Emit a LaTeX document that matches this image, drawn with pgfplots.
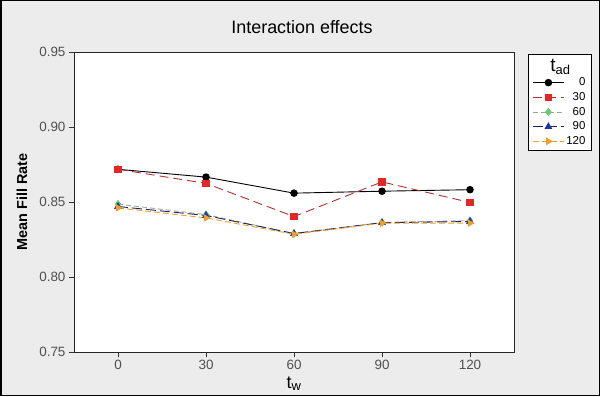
\documentclass[border=0pt]{standalone}
\usepackage{pgfplots}
\pgfplotsset{compat=1.18}
\usepackage{fontspec}
\setmainfont{Liberation Sans}
\definecolor{bg}{HTML}{ECECEC}
\definecolor{myred}{HTML}{E02828}
\definecolor{mydred}{HTML}{B03030}
\definecolor{mygreen}{HTML}{66CC77}
\definecolor{mygray}{HTML}{9CA89C}
\definecolor{myblue}{HTML}{2233AA}
\definecolor{mynavy}{HTML}{202060}
\definecolor{myorange}{HTML}{F0A028}
\definecolor{tickgray}{HTML}{505050}
\begin{document}
\begin{tikzpicture}[x=1bp,y=1bp]
\fill[bg] (0,0) rectangle (600,396);
\draw[black, line width=1.5bp] (0.75,0.75) rectangle (599.25,395.25);
\node[font=\fontsize{18}{20}\selectfont] at (302,369) {Interaction effects};
\begin{axis}[
  at={(74bp,44bp)}, anchor=south west,
  scale only axis, width=440bp, height=300bp,
  xmin=-15, xmax=135, ymin=0.75, ymax=0.95,
  xtick={0,30,60,90,120}, ytick={0.75,0.8,0.85,0.9,0.95},
  yticklabel style={/pgf/number format/.cd, fixed, fixed zerofill, precision=2},
  /pgf/number format/assume math mode=true,
  tick label style={font=\fontsize{13.5}{15}\selectfont, text=tickgray},
  tick align=outside, tick pos=left,
  major tick length=5bp,
  axis line style={line width=0.9bp, black!85},
  every tick/.style={black!80, line width=0.8bp},
  axis background/.style={fill=white},
  every axis y label/.style={at={(axis description cs:-0.118,0.5)},rotate=90,anchor=center},
  every axis x label/.style={at={(axis description cs:0.5,-0.105)},anchor=center},
  ylabel={\fontsize{14.5}{16}\selectfont\bfseries Mean Fill Rate},
  xlabel={\fontsize{18}{20}\selectfont t\textsubscript{\fontsize{13}{13}\selectfont w}},
  legend style={at={(rel axis cs:1.0318,0.9933)}, anchor=north west, draw=black, line width=0.9bp, fill=white,
    font=\fontsize{11.5}{13}\selectfont, row sep=1.2bp, inner sep=2.5bp, inner xsep=4bp},
  legend cell align=right,
  legend image code/.code={\draw[mark repeat=2,mark phase=2,#1] plot coordinates {(0bp,0bp)(15.5bp,0bp)(31bp,0bp)};},
]
\addlegendimage{empty legend}
\addlegendentry{\makebox[0pt][r]{\fontsize{19}{20}\selectfont t\textsubscript{\fontsize{13}{13}\selectfont ad}\hspace{15bp}}}
\addplot[black, line width=0.9bp, mark=*, mark size=3.3bp, mark options={solid, fill=black}]
  coordinates {(0,0.8718) (30,0.8666) (60,0.8559) (90,0.8572) (120,0.8582)};
\addlegendentry{0}
\addplot[mydred, line width=0.9bp, dash pattern=on 9bp off 5bp, mark=square*, mark size=3.3bp, mark options={solid, fill=myred, draw=myred}]
  coordinates {(0,0.8718) (30,0.8624) (60,0.8403) (90,0.8634) (120,0.8497)};
\addlegendentry{30}
\addplot[mygray, line width=0.9bp, dash pattern=on 5bp off 3bp, mark=diamond*, mark size=3.6bp, mark options={solid, fill=mygreen, draw=mygreen}]
  coordinates {(0,0.8486) (30,0.8416) (60,0.8289) (90,0.8364) (120,0.8376)};
\addlegendentry{60}
\addplot[mynavy, line width=0.9bp, dash pattern=on 10bp off 4bp, mark=triangle*, mark size=3.6bp, mark options={solid, fill=myblue, draw=myblue}]
  coordinates {(0,0.8470) (30,0.8410) (60,0.8290) (90,0.8362) (120,0.8370)};
\addlegendentry{90}
\addplot[myorange, line width=0.9bp, dash pattern=on 6bp off 3bp, mark=triangle*, mark size=3.6bp, mark options={solid, fill=myorange, draw=myorange, rotate=-90}]
  coordinates {(0,0.8461) (30,0.8394) (60,0.8285) (90,0.8359) (120,0.8359)};
\addlegendentry{120}
\end{axis}
\end{tikzpicture}
\end{document}
